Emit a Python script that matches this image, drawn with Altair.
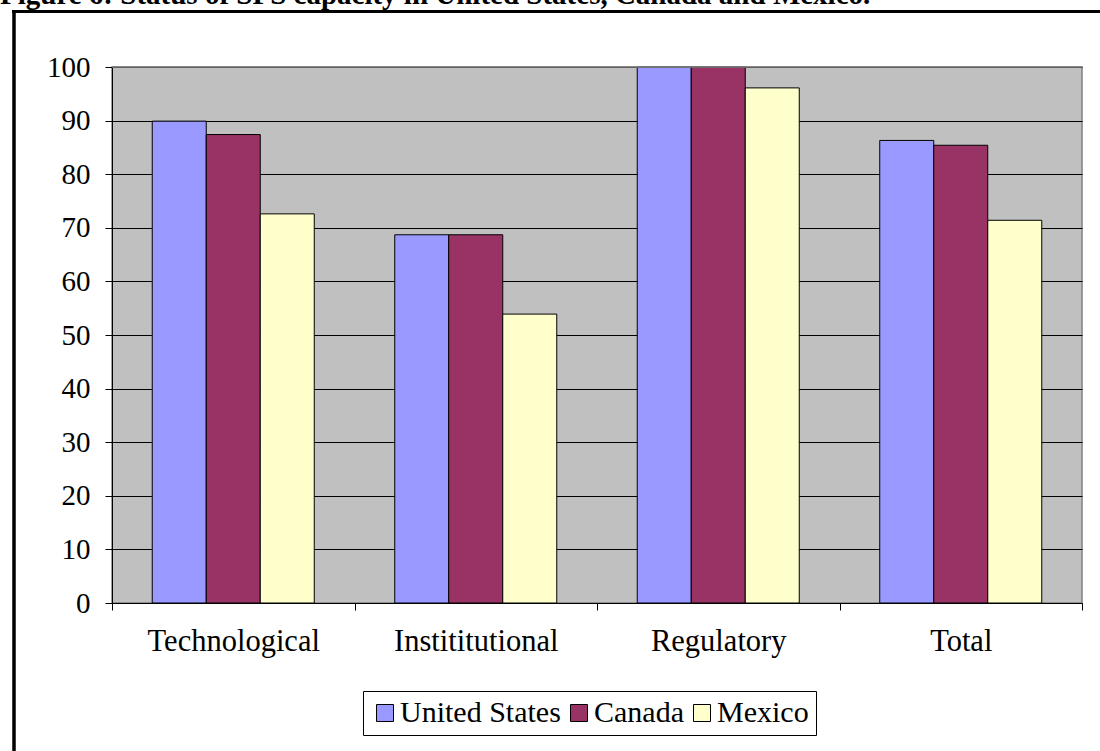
import altair as alt
import pandas as pd

categories = ["Technological", "Instititutional", "Regulatory", "Total"]
countries = ["United States", "Canada", "Mexico"]
us = [89.9, 68.7, 100, 86.3]
canada = [87.4, 68.7, 100, 85.4]
mexico = [72.6, 53.9, 96.1, 71.4]
colors = ["#9999FF", "#993366", "#FFFFCC"]
y_ticks = [0, 10, 20, 30, 40, 50, 60, 70, 80, 90, 100]
title_text = "Figure 6: Status of SPS capacity in United States, Canada and Mexico."

rows = []
for series, vals in zip(countries, [us, canada, mexico]):
    for c, v in zip(categories, vals):
        rows.append({"category": c, "country": series, "value": v})
df = pd.DataFrame(rows)

FONT = "Liberation Serif"

bars = alt.Chart(df).mark_bar(stroke="black", strokeWidth=1).encode(
    x=alt.X("category:N", sort=categories, title=None,
            scale=alt.Scale(paddingInner=0, paddingOuter=0),
            axis=alt.Axis(labelAngle=0, tickBand="extent", grid=False,
                          labelFont=FONT, labelFontSize=30.5, labelColor="black",
                          labelPadding=16, tickSize=7, tickColor="black",
                          domainColor="black", labelLimit=400)),
    xOffset=alt.XOffset("country:N", sort=countries,
                        scale=alt.Scale(paddingInner=0, paddingOuter=0.745)),
    y=alt.Y("value:Q", title=None,
            scale=alt.Scale(domain=[0, 100], nice=False),
            axis=alt.Axis(values=y_ticks, labelPadding=15, tickSize=7,
                          labelFont=FONT, labelFontSize=29, labelColor="black",
                          tickColor="black", domainColor="black",
                          gridColor="black", gridWidth=1.2)),
    color=alt.Color("country:N", sort=countries,
                    scale=alt.Scale(domain=countries, range=colors),
                    legend=alt.Legend(title=None, orient="none", direction="horizontal",
                                      legendX=251, legendY=624,
                                      symbolType="square", symbolSize=289,
                                      symbolStrokeColor="black", symbolStrokeWidth=1,
                                      symbolOpacity=1, labelLimit=400,
                                      labelFont=FONT, labelFontSize=30, labelColor="black",
                                      labelOffset=0, columnPadding=3,
                                      padding=7, strokeColor="black", fillColor="white")),
)

dummy = alt.Data(values=[{}])
top_line = alt.Chart(dummy).mark_rule(color="black", strokeWidth=3).encode(
    x=alt.value(-100), x2=alt.value(1000), y=alt.value(-55.5))
left_line = alt.Chart(dummy).mark_rule(color="black", strokeWidth=3.5).encode(
    x=alt.value(-98), y=alt.value(-57), y2=alt.value(700))
top_border = alt.Chart(dummy).mark_rule(color="#808080", strokeWidth=1.5).encode(
    x=alt.value(0), x2=alt.value(970), y=alt.value(0))
title = alt.Chart(dummy).mark_text(
    text=title_text, align="left", baseline="alphabetic", font=FONT,
    fontWeight="bold", fontSize=29, color="black").encode(
    x=alt.value(-112), y=alt.value(-63.5))

chart = alt.layer(bars, top_border, top_line, left_line, title).properties(
    width=970, height=536,
    autosize=alt.AutoSizeParams(type="none"),
    padding={"left": 112, "top": 67, "right": 18, "bottom": 148},
    background="white",
).configure(font=FONT).configure_view(
    fill="#C0C0C0", stroke="#808080", strokeWidth=1.5
)

chart.save("out.html", embed_options={"renderer": "svg", "actions": False})
